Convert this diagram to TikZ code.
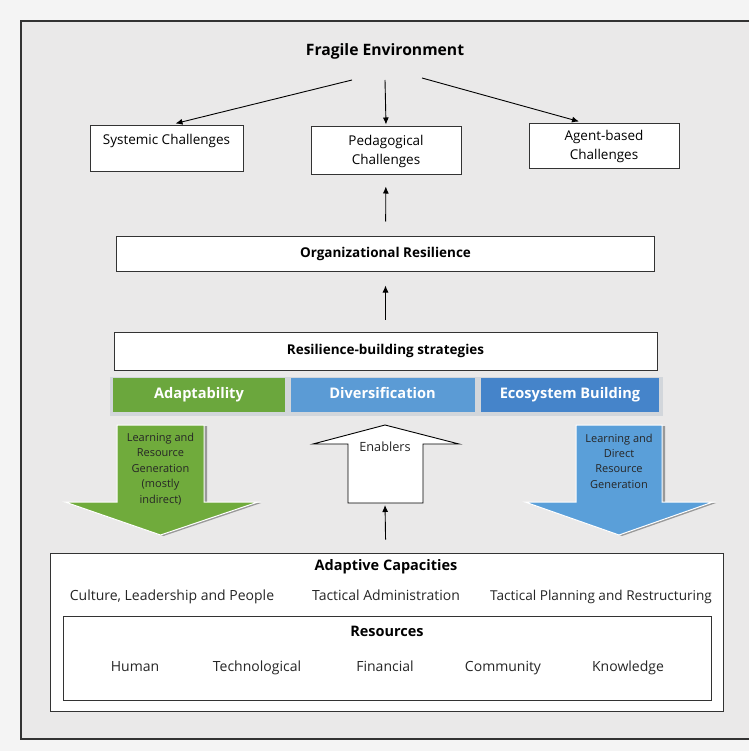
\documentclass[tikz,border=0pt]{standalone}
\usepackage{fontspec}
\setmainfont{Open Sans}
\usetikzlibrary{arrows.meta}

\definecolor{pagegray}{HTML}{F4F4F4}
\definecolor{framegray}{HTML}{EAE9E9}
\definecolor{linegray}{HTML}{333333}
\definecolor{adaptgreen}{HTML}{6BA73D}
\definecolor{divblue}{HTML}{5B9BD5}
\definecolor{ecoblue}{HTML}{4584CA}
\definecolor{fatgreen}{HTML}{70AB3C}
\definecolor{fatblue}{HTML}{5A9FD9}
\definecolor{stripgray}{HTML}{D2D6DB}

\begin{document}
\begin{tikzpicture}[x=1pt,y=-1pt,
	box/.style={draw=linegray, fill=white, line width=1pt, align=center, inner sep=2pt,
		font=\fontsize{13.5}{19}\selectfont},
	heading/.style={font=\fontsize{13.5}{16}\selectfont\bfseries},
	strat/.style={fill=#1, text=white, minimum height=34, inner sep=0pt, text height=10.5pt, text depth=3.5pt,
		font=\fontsize{14.6}{16}\selectfont\bfseries},
	item/.style={font=\fontsize{14}{16}\selectfont, text=black!85, text height=10.5pt, text depth=3.5pt},
	fatlabel/.style={align=center, text=black!85, font=\fontsize{11}{15.4}\selectfont},
	arr/.style={-{Latex[length=7pt,width=6pt]}, line width=0.9pt}]
	\useasboundingbox (0,0) rectangle (749,751);
	\fill[pagegray] (0,0) rectangle (749,751);
	\fill[framegray] (21,21) rectangle (749,739);
	\draw[linegray, line width=1.2pt] (749,21) -- (21,21) -- (21,739) -- (749,739);

	% top: environment and its challenges
	\path(385,51)    node[heading, font=\fontsize{15.7}{18}\selectfont\bfseries](FragEnv) {Fragile Environment};
	\path(166.5,149) node[box, minimum width=153, minimum height=46](SysCh) {Systemic Challenges\\\mbox{}};
	\path(386,151)   node[box, minimum width=150, minimum height=48](PedCh) {Pedagogical\\Challenges};
	\path(604,146.5) node[box, minimum width=150, minimum height=45](AgentCh) {Agent-based\\Challenges};
	\coordinate (FragL) at (352,80);
	\coordinate (FragM) at (385,80);
	\coordinate (FragR) at (422,78);
	\draw[arr] (FragL) -- ([xshift=9pt,yshift=2pt]SysCh.north);
	\draw[arr] (FragM) -- ([yshift=2pt]PedCh.north);
	\draw[arr] (FragR) -- ([xshift=-25pt,yshift=2pt]AgentCh.north);

	% middle: resilience and strategies
	\path(385.5,253.5) node[box, heading, minimum width=538, minimum height=35](OrgRes) {Organizational Resilience};
	\path(385.5,351)   node[box, heading, minimum width=543, minimum height=38](Strat) {Resilience-building strategies};
	\draw[arr, shorten <=14pt, shorten >=11pt] (OrgRes) -- (PedCh);
	\draw[arr, shorten <=12pt, shorten >=14pt] (Strat) -- (OrgRes);

	\fill[stripgray] (110,377) rectangle (663,416);
	\path(199,395)   node[strat=adaptgreen, minimum width=172](Adapt) {Adaptability};
	\path(382.5,395) node[strat=divblue, minimum width=184](Divers) {Diversification};
	\path(570,395)   node[strat=ecoblue, minimum width=178](EcoBuild) {Ecosystem Building};

	% fat arrows
	\fill[black!40, shift={(3,1)}] (117,425) -- (204,425) -- (204,502) -- (258,502) -- (160.5,535) -- (65,502) -- (117,502) -- cycle;
	\filldraw[fatgreen, draw=white, line width=1pt] (117,425) -- (204,425) -- (204,502) -- (258,502) -- (160.5,535) -- (65,502) -- (117,502) -- cycle;
	\fill[black!40, shift={(3,1)}] (576,425) -- (662,425) -- (662,502) -- (713,502) -- (619,535) -- (525,502) -- (576,502) -- cycle;
	\filldraw[fatblue, draw=white, line width=1pt] (576,425) -- (662,425) -- (662,502) -- (713,502) -- (619,535) -- (525,502) -- (576,502) -- cycle;
	\path(160.5,469) node[fatlabel](LearnInd) {Learning and\\Resource\\Generation\\(mostly\\indirect)};
	\path(619,461)   node[fatlabel](LearnDir) {Learning and\\Direct\\Resource\\Generation};

	\filldraw[fill=white, draw=black, line width=0.9pt] (385,425) -- (459,444) -- (423,444) -- (423,503) -- (348,503) -- (348,444) -- (313,444) -- cycle;
	\path(385,447) node[font=\fontsize{12.7}{15}\selectfont, text=black!85](Enab) {Enablers};
	\coordinate (EnabBase) at (385,503);

	% bottom: capacities and resources
	\path(387,632)   node[box, minimum width=673, minimum height=158](AdaptCap) {};
	\path(387,658)   node[box, minimum width=648, minimum height=84](Res) {};
	\draw[arr, shorten <=13pt, shorten >=2pt] (AdaptCap) -- (EnabBase);
	\path(386,567)   node[heading, font=\fontsize{14.5}{16}\selectfont\bfseries](AdaptCapT) {Adaptive Capacities};
	\path(172,597)   node[item](Culture) {Culture, Leadership and People};
	\path(386,597)   node[item](TactAdm) {Tactical Administration};
	\path(601,597)   node[item, font=\fontsize{13.6}{16}\selectfont](TactPlan) {Tactical Planning and Restructuring};
	\path(387,631)   node[heading, font=\fontsize{14.5}{16}\selectfont\bfseries](ResT) {Resources};
	\path(135,668)   node[item](Human) {Human};
	\path(257,668)   node[item](Tech) {Technological};
	\path(385,668)   node[item](Fin) {Financial};
	\path(503,668)   node[item](Comm) {Community};
	\path(628,668)   node[item](Know) {Knowledge};
\end{tikzpicture}
\end{document}
